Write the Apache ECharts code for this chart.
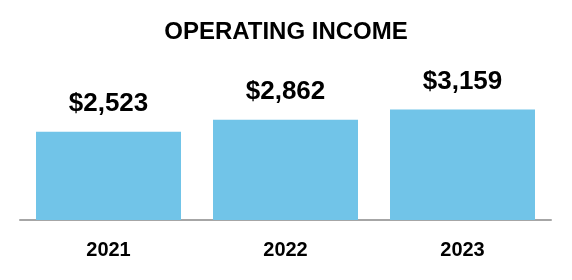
<!DOCTYPE html>
<html>
<head>
<meta charset="utf-8">
<script src="https://cdn.jsdelivr.net/npm/echarts@6/dist/echarts.min.js"></script>
<style>html,body{margin:0;padding:0;background:#fff;}#c{width:572px;height:280px;}</style>
</head>
<body>
<div id="c"></div>
<script>
var categories = ['2021', '2022', '2023'];
var values = [2523, 2862, 3159];
var titleText = 'OPERATING INCOME';

var chart = echarts.init(document.getElementById('c'), null, {renderer: 'canvas'});
chart.setOption({
  animation: false,
  backgroundColor: '#ffffff',
  title: {
    text: titleText,
    left: 'center',
    top: 15,
    textStyle: {fontFamily: 'Liberation Sans, Arial, sans-serif', fontWeight: 'bold', fontSize: 24, color: '#000'}
  },
  grid: {left: 20, right: 21, top: 80, bottom: 60},
  xAxis: {
    type: 'category',
    data: categories,
    axisLine: {lineStyle: {color: '#a6a6a6', width: 2}},
    axisTick: {show: false},
    axisLabel: {margin: 20, fontFamily: 'Liberation Sans, Arial, sans-serif', fontWeight: 'bold', fontSize: 20, color: '#000'}
  },
  yAxis: {
    type: 'value', min: 0, max: 4000, show: false,
    splitLine: {show: false}
  },
  series: [{
    type: 'bar',
    data: values,
    barWidth: 145,
    itemStyle: {color: '#71c4e8'},
    label: {
      show: true, position: 'top', distance: 15,
      formatter: function (p) { return '$' + p.value.toLocaleString('en-US'); },
      fontFamily: 'Liberation Sans, Arial, sans-serif', fontWeight: 'bold', fontSize: 26, color: '#000'
    }
  }]
});
</script>
</body>
</html>
